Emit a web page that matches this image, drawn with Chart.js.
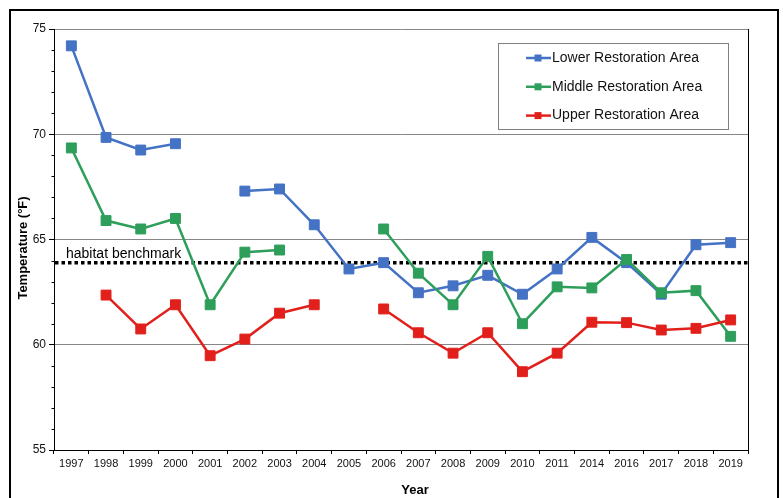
<!DOCTYPE html>
<html>
<head>
<meta charset="utf-8">
<script src="https://cdn.jsdelivr.net/npm/chart.js@4.4.1/dist/chart.umd.min.js"></script>
<style>
  body { margin: 0; background: #fff; }
  #wrap { width: 783px; height: 498px; }
</style>
</head>
<body>
<div id="wrap"><canvas id="tempChart" width="783" height="498"></canvas></div>
<script>
// Data
const years = ['1997', '1998', '1999', '2000', '2001', '2002', '2003', '2004', '2005', '2006',
               '2007', '2008', '2009', '2010', '2011', '2014', '2016', '2017', '2018', '2019'];
const lowerArea = [74.2, 69.85, 69.25, 69.55, null, 67.3, 67.4, 65.7, 63.6, 63.9,
                   62.47, 62.8, 63.3, 62.4, 63.6, 65.1, 63.9, 62.4, 64.75, 64.85];
const middleArea = [69.35, 65.9, 65.5, 66.0, 61.9, 64.4, 64.5, null, null, 65.5,
                    63.4, 61.9, 64.2, 61.0, 62.75, 62.7, 64.05, 62.47, 62.57, 60.4];
const upperArea = [null, 62.36, 60.75, 61.9, 59.48, 60.27, 61.5, 61.9, null, 61.7,
                   60.57, 59.6, 60.57, 58.72, 59.6, 61.07, 61.05, 60.7, 60.78, 61.18];
const benchmark = 63.9;
const benchmarkLabel = 'habitat benchmark';
const yMin = 55, yMax = 75;

const FONT = 'Arial, "Liberation Sans", sans-serif';

// frame, benchmark, minor ticks, legend, axis titles
const extras = {
    id: 'extras',
    beforeDatasetsDraw(chart) {
        const ctx = chart.ctx;
        const area = chart.chartArea;
        const y = chart.scales.y.getPixelForValue(benchmark);
        ctx.save();
        ctx.strokeStyle = '#000';
        ctx.lineWidth = 3.5;
        ctx.setLineDash([3.5, 3]);
        ctx.beginPath();
        ctx.moveTo(area.left + 1, y);
        ctx.lineTo(area.right, y);
        ctx.stroke();
        ctx.setLineDash([]);
        ctx.fillStyle = '#000';
        ctx.font = '14px ' + FONT;
        ctx.textBaseline = 'alphabetic';
        ctx.fillText(benchmarkLabel, area.left + 12, y - 5);
        ctx.restore();
    },
    afterDraw(chart) {
        const ctx = chart.ctx;
        const area = chart.chartArea;
        const ys = chart.scales.y;
        ctx.save();
        // outer frame
        ctx.strokeStyle = '#000';
        ctx.lineWidth = 2;
        ctx.strokeRect(10, 10, 768, 510);
        // right border of plot
        ctx.lineWidth = 1;
        ctx.beginPath();
        ctx.moveTo(area.right + 0.5, area.top);
        ctx.lineTo(area.right + 0.5, area.bottom);
        ctx.stroke();
        // minor ticks on y axis
        for (let v = yMin; v <= yMax; v++) {
            if (v % 5 === 0) continue;
            const py = Math.round(ys.getPixelForValue(v)) + 0.5;
            ctx.beginPath();
            ctx.moveTo(area.left - 2.5, py);
            ctx.lineTo(area.left, py);
            ctx.stroke();
        }
        // axis titles
        ctx.fillStyle = '#000';
        ctx.font = 'bold 13px ' + FONT;
        ctx.textAlign = 'center';
        ctx.textBaseline = 'middle';
        ctx.fillText('Year', 415, 490);
        ctx.translate(23, 248);
        ctx.rotate(-Math.PI / 2);
        ctx.fillText('Temperature (\u00B0F)', 0, 0);
        ctx.restore();

        // legend box
        ctx.save();
        ctx.fillStyle = '#fff';
        ctx.fillRect(498, 43, 230, 86);
        ctx.strokeStyle = '#808080';
        ctx.lineWidth = 1;
        ctx.strokeRect(498.5, 43.5, 230, 86);
        ctx.font = '14px ' + FONT;
        ctx.textBaseline = 'middle';
        ctx.textAlign = 'left';
        chart.data.datasets.forEach(function(ds, i) {
            const ly = 58 + i * 28.8;
            ctx.strokeStyle = ds.borderColor;
            ctx.lineWidth = 2.5;
            ctx.beginPath();
            ctx.moveTo(526, ly);
            ctx.lineTo(551, ly);
            ctx.stroke();
            ctx.fillStyle = ds.borderColor;
            ctx.fillRect(534.5, ly - 3.5, 7, 7);
            ctx.fillStyle = '#111';
            ctx.fillText(ds.label, 552, ly);
        });
        ctx.restore();
    }
};

document.addEventListener('DOMContentLoaded', function() {
    const ctx = document.getElementById('tempChart').getContext('2d');
    const makeSet = function(label, data, color, order) {
        return {
            label: label,
            data: data,
            borderColor: color,
            backgroundColor: color,
            borderWidth: 2.5,
            pointStyle: 'rect',
            pointRadius: 7,
            pointBorderWidth: 1,
            pointBackgroundColor: color,
            pointBorderColor: color,
            spanGaps: false,
            tension: 0,
            order: order
        };
    };
    new Chart(ctx, {
        type: 'line',
        data: {
            labels: years,
            datasets: [
                makeSet('Lower Restoration Area', lowerArea, '#4472C4', 3),
                makeSet('Middle Restoration Area', middleArea, '#2E9E5B', 2),
                makeSet('Upper Restoration Area', upperArea, '#E2201B', 1)
            ]
        },
        options: {
            responsive: false,
            animation: false,
            layout: { padding: { left: 0, top: 29, right: 35, bottom: 0 } },
            plugins: {
                legend: { display: false },
                tooltip: { enabled: false }
            },
            scales: {
                x: {
                    offset: true,
                    afterFit: function(scale) { scale.height = 48; },
                    grid: {
                        offset: true,
                        drawOnChartArea: false,
                        tickLength: 4,
                        tickColor: '#000'
                    },
                    border: { display: true, color: '#000', width: 1 },
                    ticks: {
                        autoSkip: false,
                        maxRotation: 0,
                        padding: 3,
                        color: '#111',
                        font: { family: FONT, size: 11 }
                    }
                },
                y: {
                    min: yMin,
                    max: yMax,
                    afterFit: function(scale) { scale.width = 54; },
                    grid: {
                        color: function(c) { return c.tick && c.tick.value === yMin ? 'rgba(0,0,0,0)' : '#868686'; },
                        tickColor: '#000',
                        tickLength: 5
                    },
                    border: { display: true, color: '#000', width: 1 },
                    ticks: {
                        stepSize: 5,
                        padding: 3,
                        color: '#111',
                        font: { family: FONT, size: 12 }
                    }
                }
            }
        },
        plugins: [extras]
    });
});
</script>
</body>
</html>
